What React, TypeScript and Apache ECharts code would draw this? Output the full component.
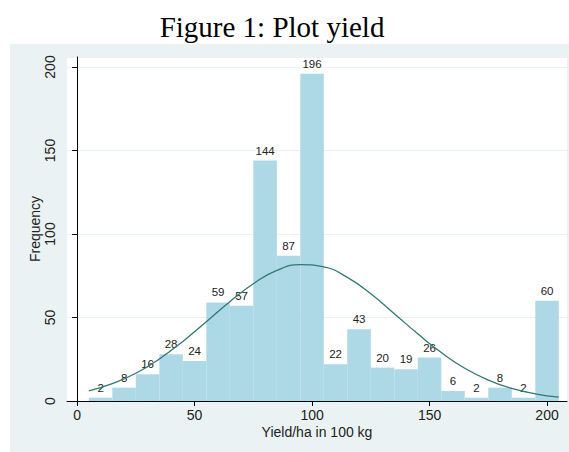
import React, { useEffect, useRef } from "react";
import * as echarts from "echarts";

const binStart = [5, 15, 25, 35, 45, 55, 65, 75, 85, 95, 105, 115, 125, 135, 145, 155, 165, 175, 185, 195];
const binWidth = 10;
const freq = [2, 8, 16, 28, 24, 59, 57, 144, 87, 196, 22, 43, 20, 19, 26, 6, 2, 8, 2, 60];
const curveX = [5, 15, 25, 35, 45, 55, 65, 75, 85, 95, 105, 115, 125, 135, 145, 155, 165, 175, 185, 195, 205];
const curveY = [6.1, 10.4, 16.6, 25.2, 35.7, 47.5, 59.5, 70.2, 78.2, 81.7, 80.3, 74.0, 64.2, 52.3, 40.2, 29.0, 19.6, 12.5, 7.5, 4.3, 2.3];
const xTicks = [0, 50, 100, 150, 200];

const SANS = '"Liberation Sans", Arial, Helvetica, sans-serif';

export default function App() {
  const ref = useRef<HTMLDivElement>(null);
  useEffect(() => {
    if (!ref.current) return;
    const chart = echarts.init(ref.current, undefined, { renderer: "svg" });
    const barData = binStart.map((s, i) => [s, s + binWidth, freq[i]]);
    chart.setOption({
      animation: false,
      backgroundColor: "#ffffff",
      graphic: [
        {
          type: "rect",
          z: -10,
          silent: true,
          shape: { x: 10, y: 44, width: 559, height: 408 },
          style: { fill: "#eaf2f3" },
        },
        {
          type: "rect",
          z: -9,
          silent: true,
          shape: { x: 67, y: 57, width: 500, height: 344 },
          style: { fill: "#ffffff" },
        },
        {
          type: "text",
          x: 272,
          y: 27,
          style: {
            text: "Figure 1: Plot yield",
            fontFamily: '"Liberation Serif", "DejaVu Serif", serif',
            fontSize: 29,
            fill: "#000",
            align: "center",
            verticalAlign: "middle",
          },
        },
      ],
      grid: { left: 67, right: 2, top: 57, bottom: 51, containLabel: false },
      xAxis: {
        type: "value",
        min: -4.3,
        max: 208.5,
        splitLine: { show: false },
        axisLine: { show: true, onZero: false, lineStyle: { color: "#000", width: 1 } },
        axisTick: { show: true, length: 5, customValues: xTicks, lineStyle: { color: "#000" } },
        axisLabel: { customValues: xTicks, fontSize: 14, color: "#222", margin: 7, fontFamily: SANS },
        name: "Yield/ha in 100 kg",
        nameLocation: "middle",
        nameGap: 24,
        nameMoveOverlap: false,
        nameTextStyle: { fontSize: 14, color: "#222", fontFamily: SANS },
      },
      yAxis: {
        type: "value",
        min: 0,
        max: 206,
        interval: 50,
        axisLine: { show: true, lineStyle: { color: "#000", width: 1 } },
        axisTick: { show: true, length: 5, lineStyle: { color: "#000" } },
        axisLabel: { rotate: 90, fontSize: 14, color: "#222", margin: 10, fontFamily: SANS },
        splitLine: { show: true, lineStyle: { color: "#eaf2f3", width: 1 } },
        name: "Frequency",
        nameLocation: "middle",
        nameGap: 25,
        nameMoveOverlap: false,
        nameTextStyle: { fontSize: 14, color: "#222", fontFamily: SANS },
      },
      series: [
        {
          type: "custom",
          data: barData,
          encode: { x: [0, 1], y: 2 },
          renderItem: (params: any, api: any) => {
            const x0 = api.value(0);
            const x1 = api.value(1);
            const v = api.value(2);
            const p0 = api.coord([x0, v]);
            const p1 = api.coord([x1, 0]);
            return {
              type: "group",
              children: [
                {
                  type: "rect",
                  shape: { x: p0[0], y: p0[1], width: p1[0] - p0[0], height: p1[1] - p0[1] },
                  style: { fill: "#add8e6" },
                },
                {
                  type: "text",
                  x: (p0[0] + p1[0]) / 2,
                  y: p0[1] - 4,
                  style: {
                    text: String(v),
                    align: "center",
                    verticalAlign: "bottom",
                    fontSize: 11.5,
                    fontFamily: SANS,
                    fill: "#222",
                  },
                },
              ],
            };
          },
        },
        {
          type: "line",
          data: curveX.map((x, i) => [x, curveY[i]]),
          smooth: true,
          showSymbol: false,
          symbol: "none",
          z: 5,
          lineStyle: { color: "#2e7a72", width: 1.3 },
        },
      ],
    });
    return () => chart.dispose();
  }, []);
  return (
    <div
      ref={ref}
      style={{ position: "fixed", left: 0, top: 0, width: 569, height: 452 }}
    />
  );
}
